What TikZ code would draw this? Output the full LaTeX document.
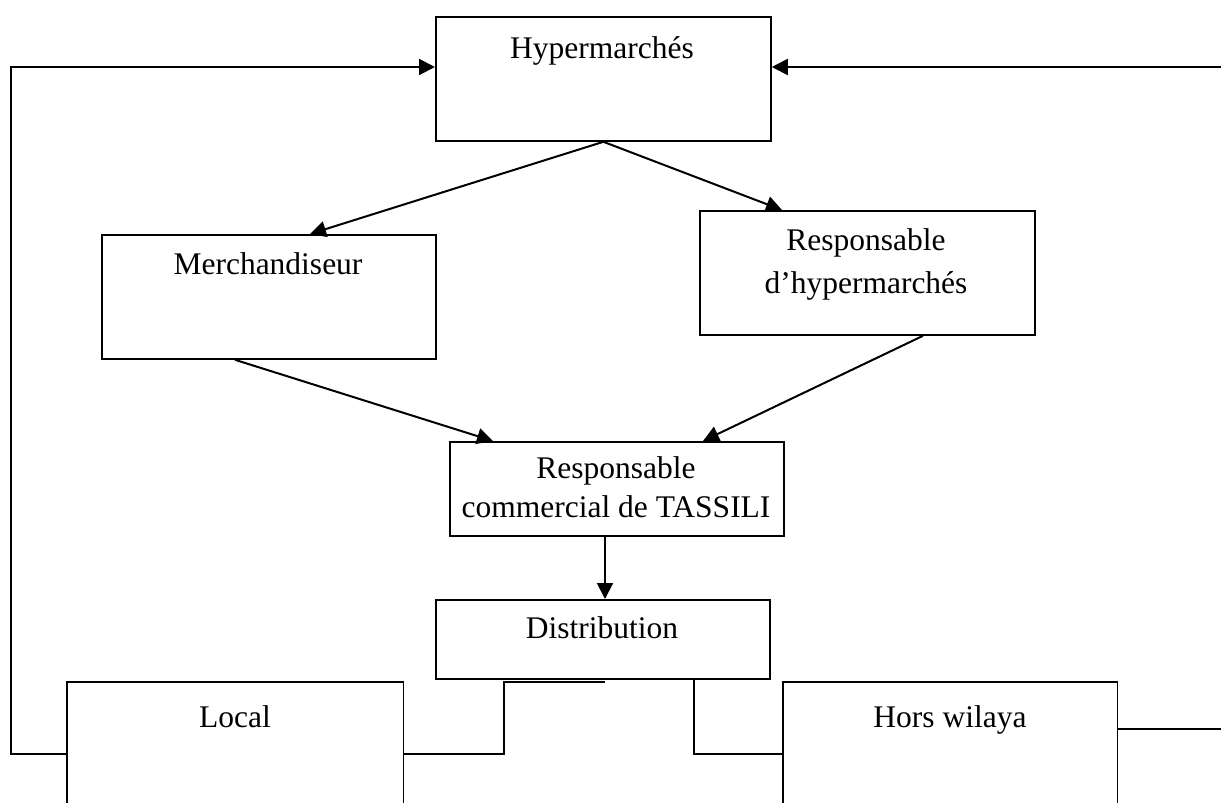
\documentclass[tikz,border=0pt]{standalone}
\usepackage{fontspec}
\setmainfont{Liberation Serif}
\usetikzlibrary{arrows.meta}
\begin{document}
\begin{tikzpicture}[x=1pt,y=-1pt,
  box/.style={draw, line width=1.8pt, inner sep=0pt, anchor=north west},
  openbox/.style={draw=none, inner sep=0pt, anchor=north west},
  lbl/.style={anchor=base, inner sep=0pt, font=\fontsize{31.5}{39}\selectfont},
  link/.style={line width=2pt},
  arr/.style={link, -{Triangle[length=16pt,width=16pt]}}]
\useasboundingbox (0,0) rectangle (1221,803);

% boxes
\node[box, minimum width=335pt, minimum height=124pt] (hyp)   at (435,16)  {};
\node[box, minimum width=334pt, minimum height=124pt] (merch) at (101,234) {};
\node[box, minimum width=335pt, minimum height=124pt] (rhyp)  at (699,210) {};
\node[box, minimum width=334pt, minimum height=94pt]  (rcom)  at (449,441) {};
\node[box, minimum width=334pt, minimum height=79pt]  (dist)  at (435,599) {};
\node[openbox, minimum width=336pt, minimum height=125pt] (local) at (67,682)  {};
\node[openbox, minimum width=334pt, minimum height=125pt] (hors)  at (783,682) {};
\draw[line width=1.8pt] (local.south west) -- (local.north west) -- (local.north east) -- (local.south east);
\draw[line width=1.8pt] (hors.south west) -- (hors.north west) -- (hors.north east) -- (hors.south east);

% labels
\node[lbl] at (602,58)  {Hypermarchés};
\node[lbl] at (268,274) {Merchandiseur};
\node[lbl] at (866,250) {Responsable};
\node[lbl] at (866,293) {d’hypermarchés};
\node[lbl] at (616,478) {Responsable};
\node[lbl] at (616,517) {commercial de TASSILI};
\node[lbl] at (602,638) {Distribution};
\node[lbl] at (235,727) {Local};
\node[lbl] at (950,727) {Hors wilaya};

% free ends and bends
\coordinate (lbend) at (11,754);
\coordinate (ltop)  at (11,67);
\coordinate (redge) at (1221,67);
\coordinate (hedge) at (1221,729);
\coordinate (m1) at (504,754);
\coordinate (m2) at (504,682);
\coordinate (m3) at (605,682);
\coordinate (d1) at (694,754);

% arrows between levels
\draw[arr] (hyp.south) -- ([xshift=209pt]merch.north west);
\draw[arr] (hyp.south) -- ([xshift=83pt]rhyp.north west);
\draw[arr] ([xshift=134pt]merch.south west) -- ([xshift=44pt]rcom.north west);
\draw[arr] ([xshift=224pt]rhyp.south west) -- ([xshift=254pt]rcom.north west);
\draw[arr] ([xshift=156pt]rcom.south west) -- ([xshift=170pt]dist.north west);

% return loops to the top box
\draw[arr] (local.west |- lbend) -- (lbend) -- (ltop) -- (hyp.west |- ltop);
\draw[arr] (redge) -- (hyp.east |- redge);

% links around Distribution
\draw[link] (local.east |- m1) -- (m1) -- (m2) -- (m3);
\draw[link] (dist.south -| d1) -- (d1) -- (hors.west |- d1);
\draw[link] (hors.east |- hedge) -- (hedge);
\end{tikzpicture}
\end{document}
